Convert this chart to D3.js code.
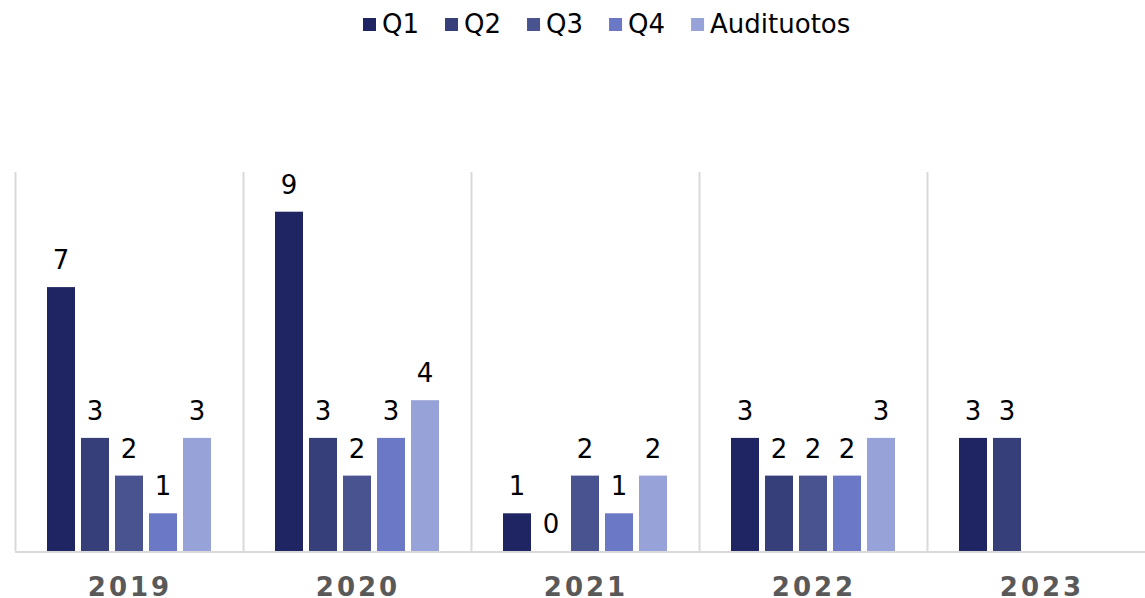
<!DOCTYPE html>
<html>
<head>
<meta charset="utf-8">
<script src="https://cdn.jsdelivr.net/npm/d3@7"></script>
<style>
  body { margin: 0; background: #fff; }
  text { font-family: "DejaVu Sans", Verdana, sans-serif; }
</style>
</head>
<body>
<div id="chart"></div>
<script>
// data
var years = ["2019", "2020", "2021", "2022", "2023"];
var seriesNames = ["Q1", "Q2", "Q3", "Q4", "Audituotos"];
var q1 = [7, 9, 1, 3, 3];
var q2 = [3, 3, 0, 2, 3];
var q3 = [2, 2, 2, 2, null];
var q4 = [1, 3, 1, 2, null];
var auditutos = [3, 4, 2, 3, null];
var colors = ["#1f2462", "#373f7a", "#49538f", "#6a78c6", "#97a2d8"];

var allSeries = [q1, q2, q3, q4, auditutos];

var width = 1145, height = 598;
var svg = d3.select("#chart").append("svg")
    .attr("width", width)
    .attr("height", height);

var x = d3.scaleBand()
    .domain(years)
    .range([15, 15 + 228 * years.length])
    .padding(0);

var y = d3.scaleLinear()
    .domain([0, 10])
    .range([551, 174]);

var step = 34, barW = 28;

// vertical separators
svg.selectAll(".sep")
    .data(years)
    .enter().append("line")
    .attr("x1", d => x(d) + 0.5)
    .attr("x2", d => x(d) + 0.5)
    .attr("y1", y(10) - 2)
    .attr("y2", y(0))
    .style("stroke", "#d9d9d9")
    .style("stroke-width", 2);

// bars
var rows = [];
years.forEach(function(yr, i) {
  allSeries.forEach(function(s, j) {
    if (s[i] != null) rows.push({ year: yr, k: j, v: s[i] });
  });
});

function barX(d) {
  var groupW = step * seriesNames.length - (step - barW);
  return x(d.year) + (x.bandwidth() - groupW) / 2 + d.k * step;
}

svg.selectAll(".bar")
    .data(rows)
    .enter().append("rect")
    .attr("class", "bar")
    .attr("x", barX)
    .attr("y", d => y(d.v))
    .attr("width", barW)
    .attr("height", d => y(0) - y(d.v))
    .style("fill", d => colors[d.k]);

svg.selectAll(".lbl")
    .data(rows)
    .enter().append("text")
    .attr("x", d => barX(d) + barW / 2)
    .attr("y", d => y(d.v) - 18)
    .attr("text-anchor", "middle")
    .style("font-size", "26px")
    .style("fill", "#000")
    .text(d => d.v);

// baseline
svg.append("line")
    .attr("x1", 15).attr("x2", width)
    .attr("y1", y(0) + 1).attr("y2", y(0) + 1)
    .style("stroke", "#d9d9d9")
    .style("stroke-width", 2);

// category labels
svg.selectAll(".cat")
    .data(years)
    .enter().append("text")
    .attr("x", d => x(d) + x.bandwidth() / 2 + 1)
    .attr("y", 596)
    .attr("text-anchor", "middle")
    .style("font-size", "26px")
    .style("font-weight", "bold")
    .style("letter-spacing", "3px")
    .style("fill", "#595959")
    .text(d => d);

// legend
var legend = svg.append("g");
var lx = 363;
seriesNames.forEach(function(name, i) {
  legend.append("rect")
      .attr("x", lx).attr("y", 18)
      .attr("width", 13).attr("height", 13)
      .style("fill", colors[i]);
  var t = legend.append("text")
      .attr("x", lx + 19).attr("y", 33)
      .style("font-size", "26px")
      .style("fill", "#000")
      .text(name);
  lx += 19 + t.node().getComputedTextLength() + 26;
});
</script>
</body>
</html>
